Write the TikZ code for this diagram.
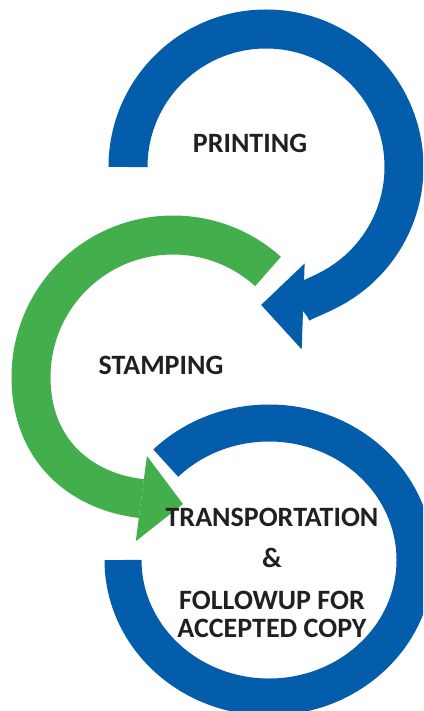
\documentclass[tikz,border=0pt]{standalone}
\usepackage{fontspec}
\setmainfont{Carlito}
\usetikzlibrary{arrows.meta,positioning}
\definecolor{mblue}{RGB}{3,93,171}
\definecolor{mgreen}{RGB}{66,175,76}
\definecolor{mtext}{RGB}{35,31,32}

\begin{document}
\begin{tikzpicture}[
    x=0.5pt, y=0.5pt,
    step_label/.style={text=mtext, font=\fontsize{14}{14}\selectfont\bfseries, inner sep=0pt, align=center},
    arc_arrow/.style={line width=19.5pt, -{Triangle[length=21pt, width=43pt, line width=0pt]}},
    blue_arc/.style={arc_arrow, draw=mblue},
    green_arc/.style={arc_arrow, draw=mgreen},
    blue_ring/.style={line width=18.5pt, draw=mblue},
    ]

\clip (0,0) rectangle (423,-711);

\coordinate (print_c) at (266,-167);
\coordinate (stamp_c) at (173,-377);
\coordinate (transport_c) at (269,-560);

\draw[blue_arc] ([shift={(180:138)}]print_c) arc[start angle=180, end angle=-92, radius=138];
\draw[green_arc] ([shift={(48:142)}]stamp_c) arc[start angle=48, end angle=180, radius=142]
    .. controls +(0,-73) and (80,-490) .. (137,-498) -- (183,-504);
\draw[blue_ring] ([shift={(135:146 and 137)}]transport_c) arc[start angle=135, end angle=-180, x radius=146, y radius=137];

\node[step_label] (printing) at (250,-143) {PRINTING};
\node[step_label] (stamping) at (161,-365) {STAMPING};
\node[step_label] (transport) at (272,-517) {TRANSPORTATION};
\node[step_label, below of=transport, node distance=20.5pt] (amp) {\&};
\node[step_label, below of=amp, node distance=28pt] (followup) {FOLLOWUP FOR\\ACCEPTED COPY};

\end{tikzpicture}
\end{document}
